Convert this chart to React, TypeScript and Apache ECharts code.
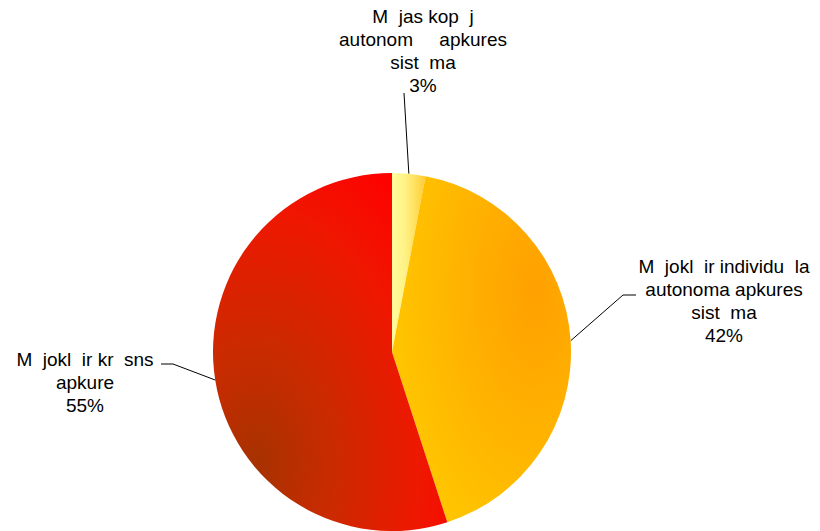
import React, { useEffect, useRef } from "react";
import * as echarts from "echarts";

// Data
const categories = [
  "M  jas kop  j\nautonom     apkures\nsist  ma",
  "M  jokl  ir individu  la\nautonoma apkures\nsist  ma",
  "M  jokl  ir kr  sns\napkure",
];
const values = [3, 42, 55];

// Label layout (center x, top y, elbow/end of leader line)
const labelSpots = [
  { x: 423, y: 5, elbow: [404, 93], end: [404, 93] },
  { x: 724, y: 255, elbow: [623, 295], end: [636, 295] },
  { x: 85, y: 348, elbow: [173, 364], end: [161, 364] },
];

const sliceColors = [
  new echarts.graphic.LinearGradient(0, 0, 1, 0, [
    { offset: 0, color: "#FFFB9C" },
    { offset: 0.4, color: "#FFF285" },
    { offset: 1, color: "#FFCC33" },
  ]),
  new echarts.graphic.RadialGradient(0.8, 0.33, 0.95, [
    { offset: 0, color: "#FFA000" },
    { offset: 0.45, color: "#FFB300" },
    { offset: 1, color: "#FFCC00" },
  ]),
  new echarts.graphic.RadialGradient(0.18, 0.82, 1.0, [
    { offset: 0, color: "#A63200" },
    { offset: 0.35, color: "#CC2A00" },
    { offset: 0.7, color: "#EE1800" },
    { offset: 1, color: "#FF0000" },
  ]),
];

export default function App() {
  const ref = useRef<HTMLDivElement>(null);
  useEffect(() => {
    if (!ref.current) return;
    const chart = echarts.init(ref.current, null, { renderer: "svg" });
    chart.setOption({
      animation: false,
      backgroundColor: "#ffffff",
      series: [
        {
          type: "pie",
          center: [392, 352],
          radius: 179,
          startAngle: 90,
          clockwise: true,
          avoidLabelOverlap: false,
          percentPrecision: 0,
          data: categories.map((name, i) => ({
            name,
            value: values[i],
            itemStyle: { color: sliceColors[i] },
          })),
          label: {
            show: true,
            position: "outside",
            formatter: "{b}\n{d}%",
            fontFamily: "Liberation Sans, Arial, sans-serif",
            fontSize: 19,
            lineHeight: 23,
            color: "#000000",
            align: "center",
          },
          labelLine: {
            show: true,
            length: 20,
            length2: 10,
            lineStyle: { color: "#000000", width: 1 },
          },
          labelLayout: (params: any) => {
            const s = labelSpots[params.dataIndex];
            const p0 = params.labelLinePoints ? params.labelLinePoints[0] : s.elbow;
            return {
              x: s.x,
              y: s.y,
              align: "center",
              verticalAlign: "top",
              labelLinePoints: [p0, s.elbow, s.end],
            };
          },
          emphasis: { disabled: true },
        },
      ],
    });
    return () => chart.dispose();
  }, []);
  return (
    <div
      ref={ref}
      style={{ position: "absolute", left: 0, top: 0, width: 820, height: 531 }}
    />
  );
}
